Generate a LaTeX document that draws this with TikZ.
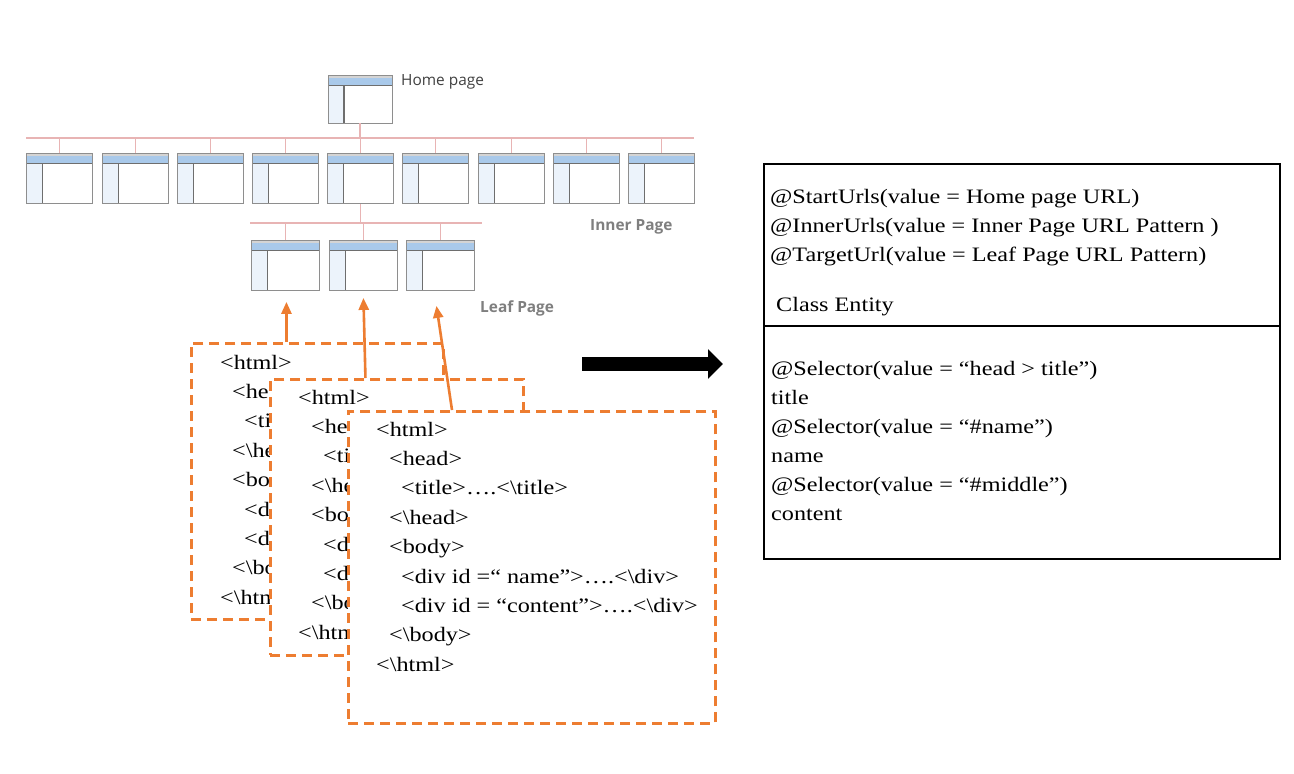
\documentclass[tikz,border=0pt]{standalone}
\usepackage{fontspec}
\setmainfont{Liberation Serif}
\newfontfamily\tnr[FakeStretch=1.18]{Liberation Serif}
\newfontfamily\labfont{Open Sans}
\usetikzlibrary{arrows.meta}
\definecolor{orng}{HTML}{ED7D31}
\definecolor{pinkl}{RGB}{232,180,180}
\definecolor{barblue}{HTML}{A9C9EA}
\definecolor{colblue}{HTML}{ECF3FB}
\definecolor{icongray}{HTML}{8E8E8E}
\definecolor{icondark}{HTML}{6E6E6E}
\definecolor{topgray}{HTML}{D4D4D4}
\definecolor{labgray}{HTML}{7F7F7F}
\definecolor{homegray}{HTML}{404040}
\begin{document}
\begin{tikzpicture}[x=1pt,y=-1pt,
  pageicon/.style={draw=icongray, line width=0.9pt, fill=white, inner sep=0pt,
    minimum width=66pt, minimum height=50pt,
    path picture={
      \fill[topgray] (path picture bounding box.north west) rectangle ([yshift=-2.5pt]path picture bounding box.north east);
      \fill[barblue] ([yshift=-2.5pt]path picture bounding box.north west) rectangle ([yshift=-9.5pt]path picture bounding box.north east);
      \fill[colblue] ([yshift=-9.5pt]path picture bounding box.north west) rectangle ([xshift=16pt]path picture bounding box.south west);
      \draw[icondark, line width=1.4pt] ([yshift=-10.2pt]path picture bounding box.north west) -- ([yshift=-10.2pt]path picture bounding box.north east);
      \draw[icondark, line width=1.4pt] ([xshift=16pt,yshift=-10.2pt]path picture bounding box.north west) -- ([xshift=16pt]path picture bounding box.south west);
    }},
  bus/.style={draw=pinkl, line width=1.6pt},
  htmlbox/.style={draw=orng, line width=2.6pt, dash pattern=on 10pt off 6pt, fill=white, inner sep=0pt, anchor=north west},
  codetxt/.style={anchor=base west, inner sep=0pt, font=\tnr\fontsize{20.5}{24}\selectfont},
  oarrow/.style={draw=orng, line width=2.6pt, -{Triangle[length=12pt,width=10pt]}},
  biglab/.style={anchor=west, inner sep=0pt, text=labgray, font=\labfont\bfseries\fontsize{15.4}{18}\selectfont},
]
\useasboundingbox (0,0) rectangle (1294,774);

% ---------- site tree ----------
\node[pageicon, minimum width=64pt, minimum height=48pt] (home) at (360,99) {};
\node[anchor=west, inner sep=0pt, text=homegray, font=\labfont\fontsize{15.4}{18}\selectfont] (homelab) at (401,82) {Home page};

\coordinate (busL) at (26,138);
\coordinate (busR) at (694,138);
\draw[bus] (busL) -- (busR);
\draw[bus] (home.south) -- (home.south |- busL);

\foreach \i/\x in {1/26,2/102,3/177,4/252,5/327,6/402,7/478,8/553,9/628}{
  \node[pageicon, anchor=north west] (i\i) at (\x,153) {};
  \draw[bus] (i\i.north) -- (i\i.north |- busL);
}
\node[biglab] (innerlab) at (590,227) {Inner Page};

\coordinate (lbusL) at (250,223);
\coordinate (lbusR) at (482,223);
\draw[bus] (lbusL) -- (lbusR);
\draw[bus] (i5.south) -- (i5.south |- lbusL);
\foreach \i/\x in {1/251,2/329,3/406}{
  \node[pageicon, anchor=north west, minimum width=68pt] (l\i) at (\x,240) {};
  \draw[bus] (l\i.north) -- (l\i.north |- lbusL);
}
\node[biglab] (leaflab) at (480,308) {Leaf Page};

% ---------- html pages (back pages partly hidden) ----------
\node[htmlbox, minimum width=252pt, minimum height=276pt] (b1) at (190,342) {};
\node[codetxt] (b1t1) at (220,369.0) {<html>};
\node[codetxt] (b1t2) at (232,398.4) {<he};
\node[codetxt] (b1t3) at (244,427.8) {<ti};
\node[codetxt] (b1t4) at (232,457.2) {<\textbackslash he};
\node[codetxt] (b1t5) at (232,486.6) {<bo};
\node[codetxt] (b1t6) at (244,516.0) {<d};
\node[codetxt] (b1t7) at (244,545.4) {<d};
\node[codetxt] (b1t8) at (232,574.8) {<\textbackslash bo};
\node[codetxt] (b1t9) at (220,604.2) {<\textbackslash htm};

\node[htmlbox, minimum width=253pt, minimum height=276pt] (b2) at (269,378) {};
\node[codetxt] (b2t1) at (298,404.0) {<html>};
\node[codetxt] (b2t2) at (311,433.4) {<he};
\node[codetxt] (b2t3) at (323,462.8) {<ti};
\node[codetxt] (b2t4) at (311,492.2) {<\textbackslash he};
\node[codetxt] (b2t5) at (311,521.6) {<bo};
\node[codetxt] (b2t6) at (323,551.0) {<d};
\node[codetxt] (b2t7) at (323,580.4) {<d};
\node[codetxt] (b2t8) at (311,609.8) {<\textbackslash bo};
\node[codetxt] (b2t9) at (298,639.2) {<\textbackslash htm};

\node[htmlbox, minimum width=367pt, minimum height=312pt] (b3) at (347,410) {};
\node[codetxt] (b3t1) at (376,436.0) {<html>};
\node[codetxt] (b3t2) at (389,465.4) {<head>};
\node[codetxt] (b3t3) at (401,494.8) {<title>….<\textbackslash title>};
\node[codetxt] (b3t4) at (389,524.2) {<\textbackslash head>};
\node[codetxt] (b3t5) at (389,553.6) {<body>};
\node[codetxt] (b3t6) at (401,583.0) {<div id =“ name”>….<\textbackslash div>};
\node[codetxt] (b3t7) at (401,612.4) {<div id = “content”>….<\textbackslash div>};
\node[codetxt] (b3t8) at (389,641.8) {<\textbackslash body>};
\node[codetxt] (b3t9) at (376,671.2) {<\textbackslash html>};

% ---------- orange arrows ----------
\coordinate (a3s) at (452,410);
\draw[oarrow] ([xshift=1pt]b1.north -| l1.south) -- ([xshift=1pt,yshift=-11pt]l1.south);
\draw[oarrow] ([xshift=2pt]b2.north -| l2.south) -- ([yshift=-7pt]l2.south);
\draw[oarrow] (a3s) -- ([xshift=-4pt,yshift=-15pt]l3.south);

% ---------- big arrow ----------
\coordinate (bigA) at (582,364);
\coordinate (bigB) at (723,364);
\draw[line width=14pt, -{Triangle[length=15pt,width=29pt]}] (bigA) -- (bigB);

% ---------- class box ----------
\node[draw=black, line width=2.4pt, anchor=north west, inner sep=0pt, minimum width=516pt, minimum height=395pt] (cls) at (763,163) {};
\coordinate (divL) at (763,326);
\coordinate (divR) at (1279,326);
\draw[line width=2.6pt] (divL) -- (divR);

\node[codetxt] (c1) at (770,203) {@StartUrls(value = Home page URL)};
\node[codetxt] (c2) at (770,232) {@InnerUrls(value = Inner Page URL Pattern )};
\node[codetxt] (c3) at (770,261) {@TargetUrl(value = Leaf Page URL Pattern)};
\node[codetxt] (c4) at (776,311) {Class Entity};
\node[codetxt] (c5) at (771,375) {@Selector(value = “head > title”)};
\node[codetxt] (c6) at (771,404) {title};
\node[codetxt] (c7) at (771,433) {@Selector(value = “\#name”)};
\node[codetxt] (c8) at (771,462) {name};
\node[codetxt] (c9) at (771,491) {@Selector(value = “\#middle”)};
\node[codetxt] (c10) at (771,520) {content};
\end{tikzpicture}
\end{document}
